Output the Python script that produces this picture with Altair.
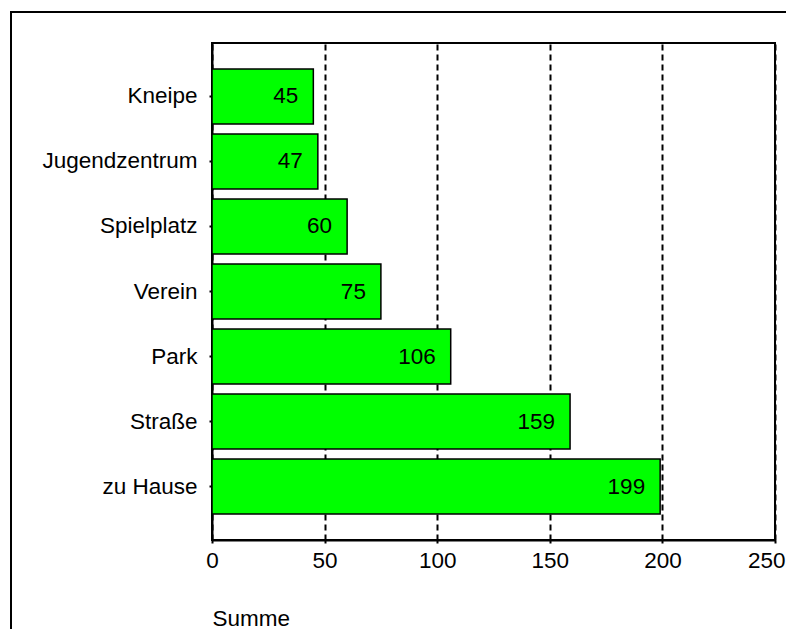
import altair as alt
import pandas as pd

categories = ["Kneipe", "Jugendzentrum", "Spielplatz", "Verein", "Park", "Straße", "zu Hause"]
values = [45, 47, 60, 75, 106, 159, 199]
x_ticks = [0, 50, 100, 150, 200, 250]

df = pd.DataFrame({"Ort": categories, "Summe": values})

FONT = "Liberation Sans"
FS = 22.5

x_enc = alt.X(
    "Summe:Q",
    scale=alt.Scale(domain=[0, 250], nice=False, zero=True),
    axis=alt.Axis(
        values=x_ticks,
        title="Summe",
        titleAnchor="start",
        titleAlign="left",
        titleX=0,
        titleY=85,
        titleBaseline="alphabetic",
        titleFont=FONT,
        titleFontSize=FS,
        titleFontWeight="normal",
        titleColor="black",
        labelFont=FONT,
        labelFontSize=FS,
        labelColor="black",
        labelPadding=6,
        labelFlush=False,
        labelAlign=alt.expr("datum.value == 250 ? 'right' : 'center'"),
        labelOffset=alt.expr("datum.value == 250 ? 10 : 0"),
        tickSize=3,
        tickWidth=2,
        tickColor="black",
        domainColor="black",
        domainWidth=2,
        grid=True,
        gridColor="black",
        gridDash=[6, 4],
        gridWidth=2,
        gridOpacity=1,
    ),
)

y_enc = alt.Y(
    "Ort:N",
    sort=categories,
    scale=alt.Scale(paddingInner=0.154, paddingOuter=0.4),
    axis=alt.Axis(
        title=None,
        labelFont=FONT,
        labelFontSize=FS,
        labelColor="black",
        labelPadding=12,
        tickSize=3,
        tickWidth=2,
        tickColor="black",
        domainColor="black",
        domainWidth=2,
        grid=False,
    ),
)

bars = alt.Chart(df).mark_bar(
    color="#00FF00", stroke="black", strokeWidth=1.5
).encode(x=x_enc, y=y_enc)

labels = alt.Chart(df).mark_text(
    align="right", baseline="middle", dx=-15, font=FONT, fontSize=FS, color="black"
).encode(x="Summe:Q", y=alt.Y("Ort:N", sort=categories), text="Summe:Q")

border = alt.Chart(alt.Data(values=[{"a": 1}])).mark_rect(
    filled=False, stroke="black", strokeWidth=2, clip=False
).encode(
    x=alt.value(-201), x2=alt.value(700), y=alt.value(-31), y2=alt.value(700)
)

chart = alt.layer(border, bars, labels).properties(
    width=563,
    height=497,
    autosize=alt.AutoSizeParams(type="none"),
    padding={"left": 204, "top": 35, "right": 11, "bottom": 89},
).configure(
    background="white"
).configure_view(
    stroke="black", strokeWidth=2
)

chart.save("out.html", embed_options={"renderer": "svg", "actions": False})
